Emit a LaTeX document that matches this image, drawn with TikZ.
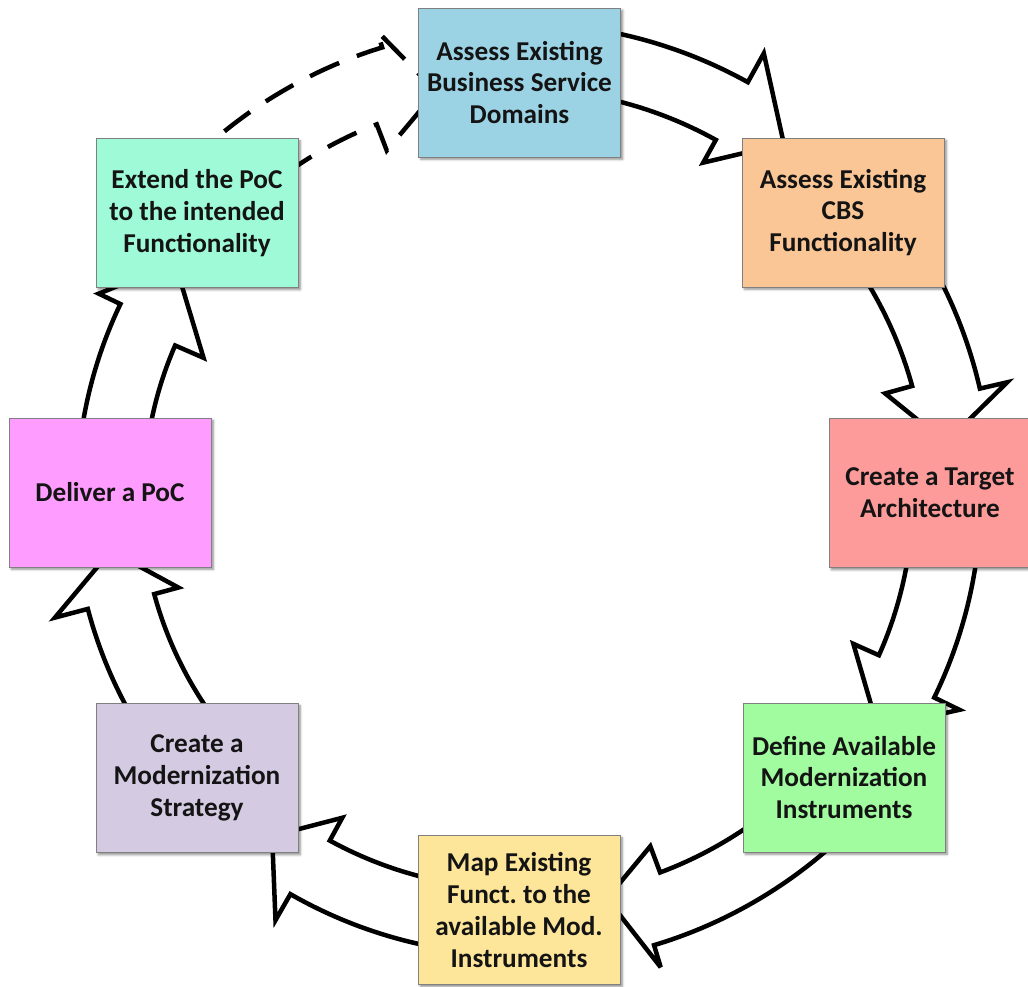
\documentclass[tikz,border=0pt]{standalone}
\usepackage{fontspec}
\setmainfont{Carlito}
\usetikzlibrary{shadows.blur}
\frenchspacing

\definecolor{cDomains}{HTML}{9BD3E5}
\definecolor{cCBS}{HTML}{FAC696}
\definecolor{cTarget}{HTML}{FD9B9B}
\definecolor{cInstr}{HTML}{A0FC9E}
\definecolor{cMap}{HTML}{FDE699}
\definecolor{cStrat}{HTML}{D4CAE2}
\definecolor{cPoC}{HTML}{FF9CFF}
\definecolor{cExtend}{HTML}{9FFBD7}

\begin{document}
\begin{tikzpicture}[x=0.02cm,y=0.02cm,
  stage/.style={draw=black!50, line width=0.5pt,
    minimum width=4.04cm, minimum height=2.98cm, inner sep=0pt,
    align=center, text=black!92,
    font=\fontsize{15.5}{18.1}\selectfont\bfseries,
    blur shadow={shadow xshift=1.3pt, shadow yshift=-1.3pt,
      shadow blur radius=1.3pt, shadow opacity=45}},
  flow/.style={draw=black, line width=0.09cm, line join=miter, miter limit=4},
  flowdash/.style={flow, dash pattern=on 0.64cm off 0.38cm}]

\useasboundingbox (-519,-492) rectangle (509,495);

% ring of curved block arrows (centre of the ring at the origin)
% each: outer arc, outer barb, tip, inner barb, inner arc back
\draw[flow] (78:472) arc[start angle=78, end angle=61, radius=472]
  -- (61:505) -- (53:440) -- (61:380) -- (61:406)
  arc[start angle=61, end angle=78, radius=406];
\draw[flow] (32:473) arc[start angle=32, end angle=13, radius=473]
  -- (13:501) -- (7:430) -- (15.5:380) -- (15.5:408)
  arc[start angle=15.5, end angle=32, radius=408];
\draw[flow] (-8.5:462) arc[start angle=-8.5, end angle=-26, radius=462]
  -- (-26:490) -- (-33:428) -- (-24:366) -- (-24:394)
  arc[start angle=-24, end angle=-8.5, radius=394];
\draw[flow] (-48:470) arc[start angle=-48, end angle=-73.3, radius=470]
  -- (-73.3:493) -- (-77.7:413) -- (-69.5:375) -- (-69.5:403)
  arc[start angle=-69.5, end angle=-48, radius=403];
\draw[flow] (-100:460) arc[start angle=-100, end angle=-119.8, radius=460]
  -- (-119.8:490) -- (-125.9:421) -- (-118.7:368) -- (-118.7:394)
  arc[start angle=-118.7, end angle=-100, radius=394];
\draw[flow] (-143:446) arc[start angle=-143, end angle=-165.2, radius=446]
  -- (-165.2:480) -- (-172.2:412) -- (-164.8:353) -- (-164.8:378)
  arc[start angle=-164.8, end angle=-143, radius=378];
\draw[flow] (-186:442) arc[start angle=-186, end angle=-205.6, radius=442]
  -- (-205.6:466) -- (-214:415) -- (-203.5:344) -- (-203.5:375)
  arc[start angle=-203.5, end angle=-186, radius=375];
\draw[flowdash] (-231:468) arc[start angle=-231, end angle=-253, radius=468]
  -- (-253:485) -- (-258.4:412) -- (-249:369) -- (-249:397)
  arc[start angle=-249, end angle=-231, radius=397];

% process stages
\node[stage, fill=cDomains] (domains) at (0.5,412.5)
  {Assess Existing\\Business Service\\Domains};
\node[stage, fill=cCBS] (cbs) at (324,282.5)
  {Assess Existing\\CBS\\Functionality};
\node[stage, fill=cTarget] (target) at (411,2)
  {Create a Target\\Architecture};
\node[stage, fill=cInstr] (instr) at (325,-282.5)
  {Define Available\\Modernization\\Instruments};
\node[stage, fill=cMap] (map) at (0,-415)
  {Map Existing\\Funct. to the\\available Mod.\\Instruments};
\node[stage, fill=cStrat] (strategy) at (-322,-283)
  {Create a\\Modernization\\Strategy};
\node[stage, fill=cPoC] (poc) at (-409,2.5)
  {Deliver a PoC};
\node[stage, fill=cExtend] (extend) at (-322,282)
  {Extend the PoC\\to the intended\\Functionality};

\end{tikzpicture}
\end{document}
